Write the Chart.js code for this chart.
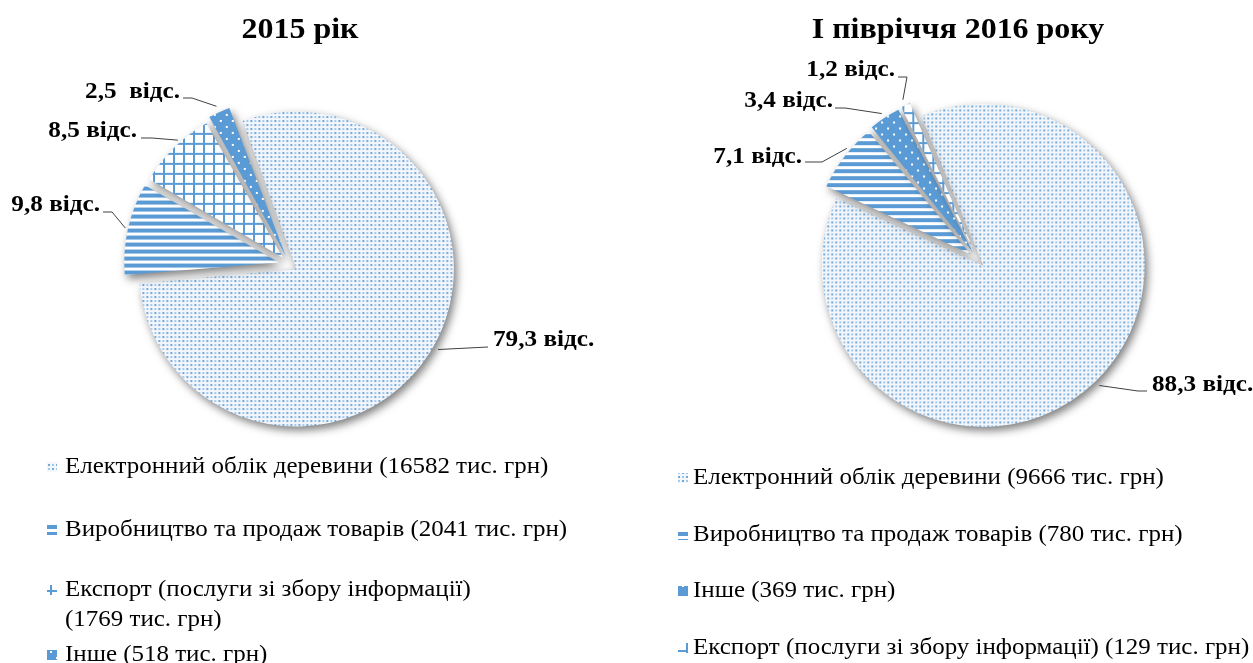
<!DOCTYPE html>
<html><head><meta charset="utf-8">
<script src="https://cdn.jsdelivr.net/npm/chart.js@4.4.0/dist/chart.umd.min.js"></script>
<style>
html,body{margin:0;padding:0;background:#fff;width:1253px;height:663px;overflow:hidden}
canvas{position:absolute;top:0}
#c1{left:0}
#c2{left:626px}
</style></head><body>
<canvas id="c1" width="626" height="663"></canvas>
<canvas id="c2" width="627" height="663"></canvas>
<script>
// ---- data ----
const titles = ['2015 рік', 'І півріччя 2016 року'];
const categories2015 = ['Електронний облік деревини (16582 тис. грн)', 'Виробництво та продаж товарів (2041 тис. грн)', 'Експорт (послуги зі збору інформації) (1769 тис. грн)', 'Інше (518 тис. грн)'];
const values2015 = [16582, 2041, 1769, 518];
const pctLabels2015 = ['79,3 відс.', '9,8 відс.', '8,5 відс.', '2,5  відс.'];
const categories2016 = ['Електронний облік деревини (9666 тис. грн)', 'Виробництво та продаж товарів (780 тис. грн)', 'Інше (369 тис. грн)', 'Експорт (послуги зі збору інформації) (129 тис. грн)'];
const values2016 = [9666, 780, 369, 129];
const pctLabels2016 = ['88,3 відс.', '7,1 відс.', '3,4 відс.', '1,2 відс.'];

// ---- patterns ----
const BLUE = '#5B9BD5';
function tile(w, h, fn) {
  const c = document.createElement('canvas'); c.width = w; c.height = h;
  const g = c.getContext('2d'); fn(g, w, h);
  return document.createElement('canvas').getContext('2d').createPattern(c, 'repeat');
}
const P = {
  light: tile(8, 8, (g) => {
    g.fillStyle = '#f3f6fb'; g.fillRect(0, 0, 8, 8);
    g.fillStyle = 'rgba(91,155,213,0.85)'; g.fillRect(0, 0, 2, 2); g.fillRect(4, 4, 2, 2);
    g.fillStyle = 'rgba(91,155,213,0.5)'; g.fillRect(4, 0, 2, 2); g.fillRect(0, 4, 2, 2);
  }),
  stripes: tile(8, 7, (g) => {
    g.fillStyle = '#fff'; g.fillRect(0, 0, 8, 7);
    g.fillStyle = BLUE; g.fillRect(0, 0, 8, 4);
  }),
  grid: tile(10, 10, (g) => {
    g.fillStyle = '#fff'; g.fillRect(0, 0, 10, 10);
    g.fillStyle = BLUE; g.fillRect(0, 0, 10, 2); g.fillRect(0, 0, 2, 10);
  }),
  darkDots: tile(12, 12, (g) => {
    g.fillStyle = BLUE; g.fillRect(0, 0, 12, 12);
    g.fillStyle = '#fff'; g.fillRect(2, 3, 2, 2); g.fillRect(8, 9, 2, 2);
  })
};

const SERIF = '"Liberation Serif", "Times New Roman", serif';

const shadowPlugin = {
  id: 'shadow',
  beforeDatasetsDraw(chart) {
    const ctx = chart.ctx; ctx.save();
    ctx.shadowColor = 'rgba(0,0,0,0.5)'; ctx.shadowBlur = 8;
    ctx.shadowOffsetX = 3; ctx.shadowOffsetY = 4;
  },
  afterDatasetsDraw(chart) { chart.ctx.restore(); }
};

// draw text horizontally stretched by sx, anchored at x according to align
function stretchText(ctx, text, x, y, sx, align) {
  const w = ctx.measureText(text).width * sx;
  let left = x;
  if (align === 'center') left = x - w / 2;
  else if (align === 'right') left = x - w;
  ctx.save();
  ctx.textAlign = 'left';
  ctx.translate(left, y); ctx.scale(sx, 1);
  ctx.fillText(text, 0, 0);
  ctx.restore();
}

// wrap at the start of parenthesised groups
function wrap(ctx, text, maxW, sx) {
  const parts = text.split(/ (?=\()/); const lines = []; let cur = '';
  for (const p of parts) {
    const t = cur ? cur + ' ' + p : p;
    if (ctx.measureText(t).width * sx > maxW && cur) { lines.push(cur); cur = p; } else cur = t;
  }
  if (cur) lines.push(cur);
  return lines;
}

function decorPlugin(cfg) {
  return {
    id: 'decor',
    afterDraw(chart) {
      const ctx = chart.ctx;
      ctx.save();
      ctx.fillStyle = '#000';
      ctx.textBaseline = 'middle';
      // title
      ctx.font = 'bold 30px ' + SERIF;
      stretchText(ctx, cfg.title, cfg.titleX, cfg.titleY, 1.065, 'center');
      // data labels with leader lines
      const meta = chart.getDatasetMeta(0);
      meta.data.forEach((el, i) => {
        const off = (el.options.offset || 0) / 4;
        const circ = el.endAngle - el.startAngle;
        const fix = 1 - Math.sin(Math.min(Math.PI, circ));
        const trans = off * (1 + fix);
        const rr = el.outerRadius + off * fix;
        const mid0 = (el.startAngle + el.endAngle) / 2;
        const mid = mid0 + (cfg.anchorShift[i] || 0);
        const ax = el.x + Math.cos(mid0) * trans + Math.cos(mid) * (rr - 2);
        const ay = el.y + Math.sin(mid0) * trans + Math.sin(mid) * (rr - 2);
        const L = cfg.labelPos[i];
        ctx.strokeStyle = '#404040'; ctx.lineWidth = 1;
        ctx.beginPath(); ctx.moveTo(ax, ay); ctx.lineTo(L.ex, L.ey); ctx.lineTo(L.hx, L.ey); ctx.stroke();
        ctx.font = 'bold 24px ' + SERIF;
        ctx.fillStyle = '#000';
        stretchText(ctx, cfg.pct[i], L.tx, L.ty, 1.05, L.align);
      });
      // legend
      ctx.font = '24px ' + SERIF;
      cfg.categories.forEach((cat, i) => {
        const y = cfg.legendY[i];
        ctx.fillStyle = cfg.fills[i];
        ctx.fillRect(cfg.legendIconX, y - 5, 10, 10);
        ctx.fillStyle = '#000';
        const lines = wrap(ctx, cat, cfg.legendMaxW, 1.04);
        lines.forEach((ln, k) => stretchText(ctx, ln, cfg.legendTextX, y + k * 30, 1.04, 'left'));
      });
      ctx.restore();
    }
  };
}

function makeChart(id, cfg) {
  const W = cfg.W, H = cfg.H, a = 100;
  return new Chart(document.getElementById(id), {
    type: 'pie',
    data: {
      labels: cfg.categories,
      datasets: [{ data: cfg.values, backgroundColor: cfg.fills, borderWidth: 0, offset: cfg.offsets }]
    },
    options: {
      responsive: false, animation: false, devicePixelRatio: 1, events: [],
      rotation: cfg.rotation, radius: cfg.radius,
      layout: { padding: { left: cfg.cx - a, right: W - cfg.cx - a, top: cfg.cy - a, bottom: H - cfg.cy - a } },
      plugins: { legend: { display: false }, tooltip: { enabled: false }, title: { display: false } }
    },
    plugins: [shadowPlugin, decorPlugin(cfg)]
  });
}

makeChart('c1', {
  W: 626, H: 663, cx: 290, cy: 265, radius: 150, rotation: -20.4,
  values: values2015, categories: categories2015, pct: pctLabels2015, title: titles[0],
  fills: [P.light, P.stripes, P.grid, P.darkDots],
  offsets: [30, 45, 40, 40],
  titleX: 300, titleY: 30,
  anchorShift: [-0.05, 0, 0.05, 0],
  labelPos: [
    { tx: 493, ty: 340, align: 'left', ex: 488, ey: 347, hx: 488 },
    { tx: 100, ty: 205, align: 'right', ex: 112, ey: 212, hx: 103 },
    { tx: 137, ty: 131, align: 'right', ex: 152, ey: 138, hx: 141 },
    { tx: 180, ty: 92, align: 'right', ex: 192, ey: 98, hx: 183 }
  ],
  legendIconX: 47, legendTextX: 65, legendMaxW: 515,
  legendY: [467, 530, 590, 655]
});

makeChart('c2', {
  W: 627, H: 663, cx: 352, cy: 260, radius: 154, rotation: -23,
  values: values2016, categories: categories2016, pct: pctLabels2016, title: titles[1],
  fills: [P.light, P.stripes, P.darkDots, P.grid],
  offsets: [30, 38, 36, 35],
  titleX: 332, titleY: 30,
  anchorShift: [0, 0.05, 0, 0],
  labelPos: [
    { tx: 1152 - 626, ty: 385, align: 'left', ex: 1138 - 626, ey: 391, hx: 1147 - 626 },
    { tx: 802 - 626, ty: 157, align: 'right', ex: 822 - 626, ey: 162, hx: 805 - 626 },
    { tx: 833 - 626, ty: 101, align: 'right', ex: 845 - 626, ey: 108, hx: 835 - 626 },
    { tx: 895 - 626, ty: 70, align: 'right', ex: 907 - 626, ey: 77, hx: 898 - 626 }
  ],
  legendIconX: 678 - 626, legendTextX: 693 - 626, legendMaxW: 580,
  legendY: [478, 535, 591, 648]
});
</script>
</body></html>
